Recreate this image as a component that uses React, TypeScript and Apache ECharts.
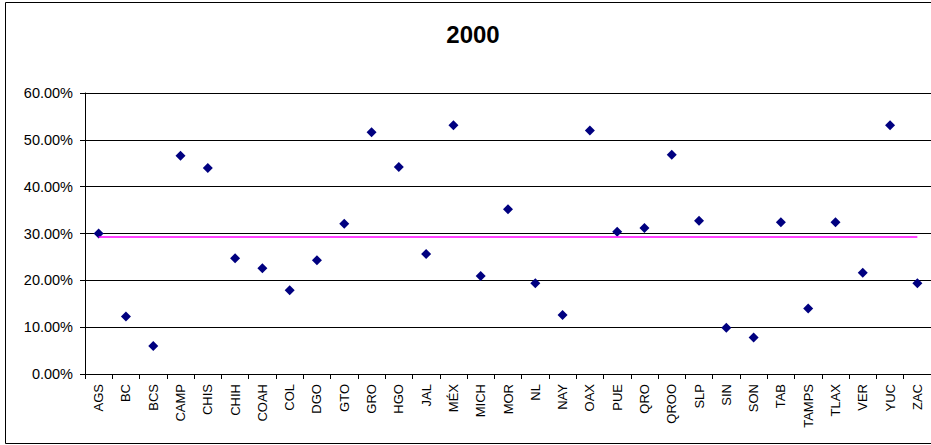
import React, { useEffect, useRef } from "react";
import * as echarts from "echarts";

const states = [
  "AGS", "BC", "BCS", "CAMP", "CHIS", "CHIH", "COAH", "COL", "DGO", "GTO",
  "GRO", "HGO", "JAL", "MÉX", "MICH", "MOR", "NL", "NAY", "OAX", "PUE",
  "QRO", "QROO", "SLP", "SIN", "SON", "TAB", "TAMPS", "TLAX", "VER", "YUC", "ZAC",
];
const values2000 = [
  30.0, 12.3, 6.0, 46.6, 44.0, 24.7, 22.6, 17.9, 24.3, 32.1,
  51.6, 44.2, 25.6, 53.1, 20.9, 35.2, 19.4, 12.6, 52.0, 30.4,
  31.2, 46.8, 32.7, 9.9, 7.8, 32.4, 14.0, 32.4, 21.6, 53.1, 19.4,
];
const averageValue = 29.3;
const yTicks = [0, 10, 20, 30, 40, 50, 60];
const titleText = "2000";

const FONT = "'Liberation Sans', Arial, sans-serif";

export default function App() {
  const ref = useRef<HTMLDivElement>(null);
  useEffect(() => {
    if (!ref.current) return;
    const chart = echarts.init(ref.current, null, { renderer: "svg" });
    chart.setOption({
      animation: false,
      backgroundColor: "#ffffff",
      graphic: [
        {
          type: "rect",
          shape: { x: 5.5, y: 2.5, width: 960, height: 441 },
          style: { fill: "none", stroke: "#000", lineWidth: 1 },
          silent: true,
        },
        {
          type: "text",
          x: 473,
          y: 34,
          style: {
            text: titleText,
            font: `bold 24px ${FONT}`,
            fill: "#000",
            textAlign: "center",
            textVerticalAlign: "middle",
          },
        },
      ],
      grid: { left: 85, right: 0, top: 93, bottom: 71, containLabel: false },
      xAxis: {
        type: "category",
        data: states,
        boundaryGap: true,
        axisLine: { show: true, lineStyle: { color: "#000", width: 1 } },
        axisTick: { show: true, length: 5, inside: false, lineStyle: { color: "#000" } },
        axisLabel: {
          rotate: 90,
          interval: 0,
          margin: 10,
          fontSize: 13,
          fontFamily: FONT,
          color: "#000",
        },
        splitLine: { show: false },
      },
      yAxis: {
        type: "value",
        min: yTicks[0],
        max: yTicks[yTicks.length - 1],
        interval: 10,
        axisLine: { show: true, lineStyle: { color: "#000", width: 1 } },
        axisTick: { show: true, length: 5, lineStyle: { color: "#000" } },
        axisLabel: {
          margin: 12,
          fontSize: 14.5,
          fontFamily: FONT,
          color: "#000",
          formatter: (v: number) => `${v.toFixed(2)}%`,
        },
        splitLine: { show: true, lineStyle: { color: "#000", width: 1 } },
      },
      series: [
        {
          type: "scatter",
          data: values2000,
          symbol: "diamond",
          symbolSize: 10,
          itemStyle: { color: "#000080", opacity: 1 },
          z: 3,
          markLine: {
            silent: true,
            symbol: ["none", "none"],
            label: { show: false },
            lineStyle: { color: "#ff00ff", width: 1.5, type: "solid", opacity: 1 },
            data: [
              [
                { coord: [states[0], averageValue] },
                { coord: [states[states.length - 1], averageValue] },
              ],
            ],
          },
        },
      ],
    });
    return () => chart.dispose();
  }, []);
  return (
    <div
      ref={ref}
      style={{ position: "fixed", left: 0, top: 0, width: 931, height: 445 }}
    />
  );
}
